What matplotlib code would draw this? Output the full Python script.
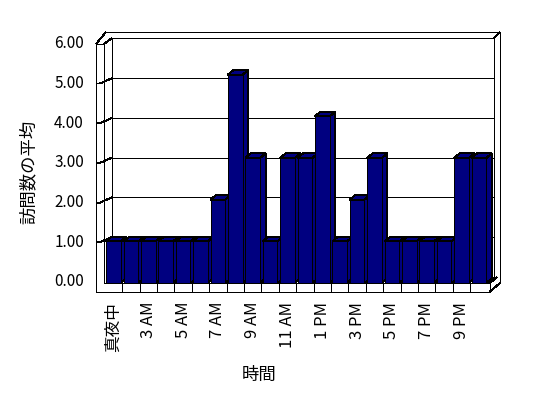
import matplotlib
matplotlib.use("Agg")
import matplotlib.pyplot as plt
import numpy as np
from matplotlib.patches import Polygon

hours = ['真夜中', '2 AM', '3 AM', '4 AM', '5 AM', '6 AM', '7 AM', '8 AM', '9 AM', '10 AM', '11 AM',
         '12 PM', '1 PM', '2 PM', '3 PM', '4 PM', '5 PM', '6 PM', '7 PM', '8 PM', '9 PM', '10 PM']
visits = [1, 1, 1, 1, 1, 1, 2, 5, 3, 1, 3, 3, 4, 1, 2, 3, 1, 1, 1, 1, 3, 3]
y_ticks = [0, 1, 2, 3, 4, 5, 6]

plt.rcParams['font.family'] = ['Noto Sans CJK JP', 'DejaVu Sans']
plt.rcParams['lines.antialiased'] = False
plt.rcParams['patch.antialiased'] = False

NAVY = '#000080'
LW = 0.72

fig = plt.figure(figsize=(5.48, 3.98), dpi=100)

# walls / floor, drawn in pixel space
bg = fig.add_axes([0, 0, 1, 1], zorder=0)
bg.set_xlim(0, 548)
bg.set_ylim(398, 0)
bg.axis('off')


def y_front(v):
    return 282 - 39.7 * v


def y_back(v):
    return 276.7 - 39.7 * v


def seg(xs, ys):
    bg.plot(xs, ys, color='black', lw=LW, solid_capstyle='butt')


# back wall
for v in y_ticks[1:-1]:
    seg([112, 494], [y_back(v), y_back(v)])
seg([112, 494], [38, 38])
seg([106, 500], [32, 32])
seg([112, 112], [38, 276.5])
seg([494, 494], [38, 277])
seg([500, 500], [32, 283])
seg([494, 500], [38, 32])
seg([112, 497], [276.5, 276.5])

# left wall
seg([96, 96], [44, 291.5])
seg([104, 104], [44, 283])
seg([96, 104], [44, 44])
seg([96, 106], [44, 32])
seg([104, 112], [44, 38])
for v in y_ticks[1:-1]:
    seg([96, 100, 112], [y_front(v), y_front(v), y_back(v)])

# floor front strip
seg([96, 490], [291.5, 291.5])
seg([104, 490], [283, 283])
seg([490, 490], [283, 291.5])
seg([490, 497], [283, 277])
seg([490, 500], [291.5, 283])

# y tick labels
for v in y_ticks:
    bg.text(84, y_front(v), f'{v:.2f}', ha='right', va='center', fontsize=11)

bg.text(29, 172, '訪問数の平均', rotation=90, ha='center', va='center', fontsize=12.5)
bg.text(259, 375, '時間', ha='center', va='center', fontsize=12.5)

# bars, in data space
ax = fig.add_axes([0, 0, 1, 1], zorder=1)
ax.patch.set_visible(False)
ax.axis('off')
ax.set_xlim(-113.5 / 17.4, (548 - 113.5) / 17.4)
ax.set_ylim(-(398 - 283) / 41.67, 283 / 41.67)

x = np.arange(len(hours))
w = 0.845
ddx, ddy = 0.32, 0.11

# category dividers on floor front
ax.vlines(x[:-1] + 0.5, -8.5 / 41.67, 0, color='black', lw=LW)

for xi, v in zip(x, visits):
    l, r = xi - w / 2, xi + w / 2
    side = Polygon([(r, 0), (r + ddx, ddy), (r + ddx, v + ddy), (r, v)],
                   closed=True, facecolor=NAVY, edgecolor='black', lw=LW)
    top = Polygon([(l, v), (l + ddx, v + ddy), (r + ddx, v + ddy), (r, v)],
                  closed=True, facecolor=NAVY, edgecolor='black', lw=LW)
    ax.add_patch(side)
    ax.add_patch(top)
    ax.bar(xi, v, width=w, color=NAVY, edgecolor='black', lw=LW)

for i in range(0, len(hours), 2):
    ax.text(x[i], -0.45, hours[i], rotation=90, ha='center', va='top', fontsize=12)

fig.savefig('out.png', dpi=100)
